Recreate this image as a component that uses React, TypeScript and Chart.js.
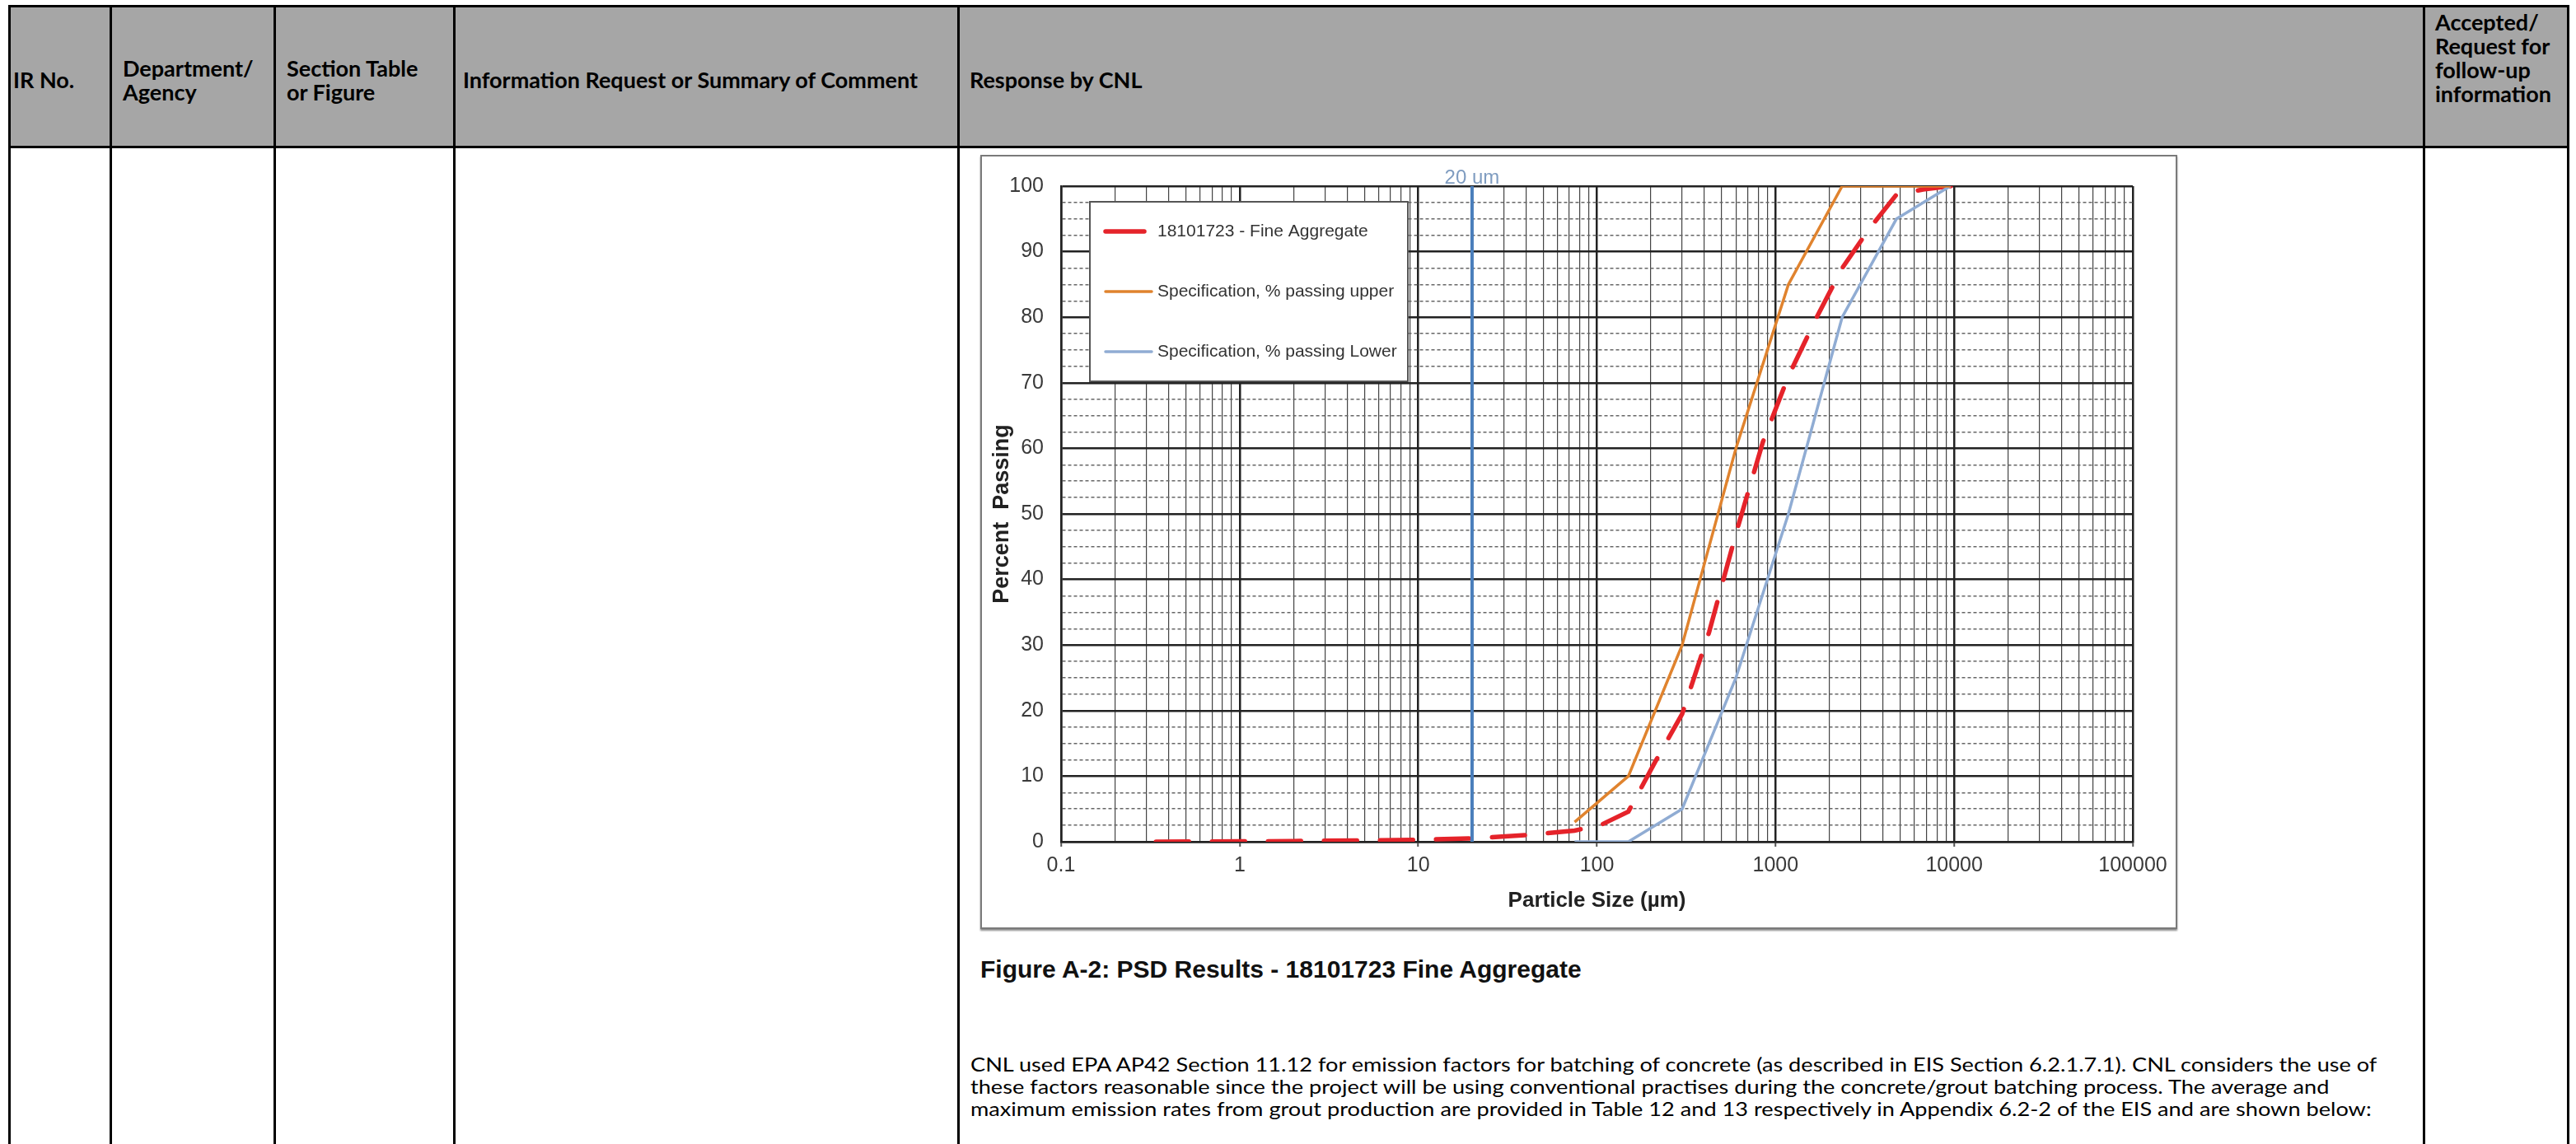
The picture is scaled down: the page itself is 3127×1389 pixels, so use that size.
import React, { useEffect, useRef } from 'react';
import { Chart, registerables } from 'chart.js';

Chart.register(...registerables);

// Sample PSD (particle size in µm, % passing)
const sampleSizes = [0.34, 1, 2, 5, 10, 20, 40, 75, 106, 150, 212, 300, 425, 600, 850, 1180, 1700, 2360, 3350, 4750, 6700, 9500, 12500];
const samplePassing = [0, 0.05, 0.1, 0.2, 0.3, 0.5, 1.0, 1.7, 2.6, 4.6, 12.2, 19.5, 32, 47, 61, 71, 80, 87.5, 93.5, 98.7, 99.5, 100, 100];

// Specification band
const specSizes = [75, 150, 300, 600, 1180, 2360, 4750, 9500];
const specUpper = [3, 10, 30, 60, 85, 100, 100, 100];
const specLower = [0, 0, 5, 25, 50, 80, 95, 100];

const seriesLabels = [
  '18101723 - Fine Aggregate',
  'Specification, % passing upper',
  'Specification, % passing Lower',
];

const markerSize = 20;
const markerLabel = '20 um';

const xTickLabels = ['0.1', '1', '10', '100', '1000', '10000', '100000'];
const yTickLabels = [0, 10, 20, 30, 40, 50, 60, 70, 80, 90, 100];

const FONT = '"Liberation Sans", Arial, sans-serif';
const CANVAS_W = 1449;
const CANVAS_H = 936;

const isDecade = (v: number) => xTickLabels.includes(String(v));

const minorTicks = () => {
  const out: number[] = [];
  xTickLabels.forEach((lbl, i) => {
    const d = Number(lbl);
    if (i === xTickLabels.length - 1) {
      out.push(d);
      return;
    }
    for (let m = 1; m < 10; m++) out.push(Number((m * d).toPrecision(6)));
  });
  return out;
};

const overlayPlugin = {
  id: 'psdOverlay',
  afterDraw(chart: any) {
    const { ctx, chartArea, scales } = chart;
    ctx.save();

    // label of the 20 um marker
    ctx.font = `24px ${FONT}`;
    ctx.fillStyle = '#7f9cc0';
    ctx.textAlign = 'center';
    ctx.textBaseline = 'alphabetic';
    ctx.fillText(markerLabel, scales.x.getPixelForValue(markerSize), chartArea.top - 3);

    // legend box inside the plot
    const bx = chartArea.left + 35;
    const by = chartArea.top + 19;
    const bw = 386;
    const bh = 218;
    ctx.fillStyle = '#ffffff';
    ctx.fillRect(bx, by, bw, bh);
    ctx.strokeStyle = '#555';
    ctx.lineWidth = 2;
    ctx.strokeRect(bx, by, bw, bh);

    const order = [3, 1, 2];
    ctx.font = `21px ${FONT}`;
    ctx.textAlign = 'left';
    ctx.textBaseline = 'middle';
    order.forEach((dsIndex, i) => {
      const ds = chart.data.datasets[dsIndex];
      const y = by + 36 + i * 73;
      ctx.beginPath();
      ctx.strokeStyle = ds.borderColor;
      ctx.lineWidth = ds.borderWidth;
      ctx.lineCap = 'round';
      ctx.moveTo(bx + 19, y);
      ctx.lineTo(bx + (i === 0 ? 66 : 75), y);
      ctx.stroke();
      ctx.fillStyle = '#333';
      ctx.fillText(seriesLabels[i], bx + 82, y);
    });
    ctx.restore();
  },
};

const PsdChart: React.FC = () => {
  const canvasRef = useRef<HTMLCanvasElement>(null);
  const chartInstance = useRef<Chart | null>(null);

  useEffect(() => {
    if (!canvasRef.current) return;
    const ctx = canvasRef.current.getContext('2d');
    if (!ctx) return;
    if (chartInstance.current) chartInstance.current.destroy();

    const toPoints = (xs: number[], ys: number[]) => xs.map((x, i) => ({ x, y: ys[i] }));

    chartInstance.current = new Chart(ctx, {
      type: 'scatter',
      data: {
        datasets: [
          {
            label: markerLabel,
            data: [{ x: markerSize, y: 0 }, { x: markerSize, y: 100 }],
            showLine: true,
            borderColor: '#4a7ebb',
            borderWidth: 4,
            pointRadius: 0,
          },
          {
            label: seriesLabels[1],
            data: toPoints(specSizes, specUpper),
            showLine: true,
            borderColor: '#e0832e',
            borderWidth: 3.5,
            pointRadius: 0,
          },
          {
            label: seriesLabels[2],
            data: toPoints(specSizes, specLower),
            showLine: true,
            borderColor: '#90acd3',
            borderWidth: 3.5,
            pointRadius: 0,
          },
          {
            label: seriesLabels[0],
            data: toPoints(sampleSizes, samplePassing),
            showLine: true,
            borderColor: '#e5232a',
            borderWidth: 5.5,
            borderDash: [40, 28],
            borderCapStyle: 'round',
            pointRadius: 0,
          },
        ],
      },
      options: {
        responsive: false,
        animation: false,
        devicePixelRatio: 1,
        layout: { padding: { top: 27, right: 52, left: 0, bottom: 0 } },
        plugins: {
          legend: { display: false },
          tooltip: { enabled: false },
        },
        scales: {
          x: {
            type: 'logarithmic',
            min: 0.1,
            max: 100000,
            afterBuildTicks: (scale: any) => {
              scale.ticks = minorTicks().map((value) => ({ value }));
            },
            afterFit: (scale: any) => {
              scale.height = 104;
            },
            ticks: {
              autoSkip: false,
              maxRotation: 0,
              padding: 8,
              color: '#3a3a3a',
              font: { family: FONT, size: 25 },
              callback: (value: any) => (isDecade(Number(value)) ? String(value) : ''),
            },
            grid: {
              color: (c: any) => (c.tick && isDecade(c.tick.value) ? '#222' : '#444'),
              lineWidth: (c: any) => (c.tick && isDecade(c.tick.value) ? 2.5 : 1.2),
              tickLength: 6,
              tickWidth: 2,
              tickColor: (c: any) => (c.tick && isDecade(c.tick.value) ? '#555' : 'rgba(0,0,0,0)'),
            },
            border: { color: '#222', width: 2.5 },
            title: {
              display: true,
              text: 'Particle Size (µm)',
              color: '#222',
              font: { family: FONT, size: 26, weight: 'bold' },
              padding: { top: 0, bottom: 17 },
            },
          },
          y: {
            min: 0,
            max: 100,
            afterFit: (scale: any) => {
              scale.width = 96;
            },
            ticks: {
              stepSize: 2.5,
              autoSkip: false,
              padding: 21,
              color: '#3a3a3a',
              font: { family: FONT, size: 25 },
              callback: (value: any) => (yTickLabels.includes(Number(value)) ? String(value) : ''),
            },
            grid: {
              drawTicks: false,
              color: (c: any) => (c.tick && c.tick.value % 10 === 0 ? '#222' : '#666'),
              lineWidth: (c: any) => (c.tick && c.tick.value % 10 === 0 ? 2.5 : 1.5),
            },
            border: {
              color: '#222',
              width: 2.5,
              dash: (c: any) => (c.tick && c.tick.value % 10 !== 0 ? [4, 3] : []),
            },
            title: {
              display: true,
              text: 'Percent  Passing',
              color: '#222',
              font: { family: FONT, size: 27, weight: 'bold' },
              padding: { top: 8, bottom: 0 },
            },
          },
        },
      },
      plugins: [overlayPlugin],
    } as any);

    return () => {
      if (chartInstance.current) {
        chartInstance.current.destroy();
        chartInstance.current = null;
      }
    };
  }, []);

  return <canvas ref={canvasRef} width={CANVAS_W} height={CANVAS_H} style={{ display: 'block' }} />;
};

// table geometry
const colLines = [11, 134, 333, 551, 1163, 2942, 3117];
const tableTop = 7;
const headerBottom = 178;

const headerFont: React.CSSProperties = {
  position: 'absolute',
  fontFamily: 'Lato, "Open Sans", sans-serif',
  fontWeight: 700,
  fontSize: 27,
  lineHeight: '29px',
  color: '#000',
  whiteSpace: 'nowrap',
};

const App: React.FC = () => {
  return (
    <div
      style={{
        position: 'absolute',
        left: 0,
        top: 0,
        width: 3127,
        height: 1389,
        overflow: 'hidden',
        background: '#fff',
      }}
    >
      {/* header fill */}
      <div
        style={{
          position: 'absolute',
          left: colLines[0],
          top: tableTop,
          width: colLines[colLines.length - 1] - colLines[0],
          height: headerBottom - tableTop,
          background: '#a6a6a6',
        }}
      />
      {/* horizontal rules */}
      <div style={{ position: 'absolute', left: colLines[0] - 1, top: tableTop - 1, width: colLines[6] - colLines[0] + 3, height: 3, background: '#000' }} />
      <div style={{ position: 'absolute', left: colLines[0] - 1, top: headerBottom - 1, width: colLines[6] - colLines[0] + 3, height: 3, background: '#000' }} />
      {/* vertical rules */}
      {colLines.map((x) => (
        <div key={x} style={{ position: 'absolute', left: x - 1, top: tableTop - 1, width: 3, height: 1389, background: '#000' }} />
      ))}

      {/* header text */}
      <div style={{ ...headerFont, left: 16, top: 82 }}>IR No.</div>
      <div style={{ ...headerFont, left: 149, top: 68 }}>
        Department/
        <br />
        Agency
      </div>
      <div style={{ ...headerFont, left: 348, top: 68 }}>
        Section Table
        <br />
        or Figure
      </div>
      <div style={{ ...headerFont, left: 562, top: 82 }}>Information Request or Summary of Comment</div>
      <div style={{ ...headerFont, left: 1177, top: 82 }}>Response by CNL</div>
      <div style={{ ...headerFont, left: 2956, top: 12 }}>
        Accepted/
        <br />
        Request for
        <br />
        follow-up
        <br />
        information
      </div>

      {/* chart frame */}
      <div
        style={{
          position: 'absolute',
          left: 1190,
          top: 188,
          width: CANVAS_W,
          height: CANVAS_H,
          border: '2px solid #7a7a7a',
          boxShadow: '0 2px 2px #8a8a8a',
          background: '#fff',
        }}
      >
        <PsdChart />
      </div>

      {/* caption */}
      <div
        style={{
          position: 'absolute',
          left: 1190,
          top: 1159,
          fontFamily: FONT,
          fontWeight: 700,
          fontSize: 30,
          lineHeight: '36px',
          color: '#111',
          whiteSpace: 'nowrap',
        }}
      >
        Figure A-2: PSD Results - 18101723 Fine Aggregate
      </div>

      {/* paragraph */}
      <div
        style={{
          position: 'absolute',
          left: 1178,
          top: 1279,
          fontFamily: 'Lato, "Open Sans", sans-serif',
          fontSize: 23,
          lineHeight: '27px',
          color: '#000',
          whiteSpace: 'nowrap',
          transform: 'scaleX(1.18)',
          transformOrigin: 'left top',
        }}
      >
        <div>CNL used EPA AP42 Section 11.12 for emission factors for batching of concrete (as described in EIS Section 6.2.1.7.1). CNL considers the use of</div>
        <div>these factors reasonable since the project will be using conventional practises during the concrete/grout batching process. The average and</div>
        <div>maximum emission rates from grout production are provided in Table 12 and 13 respectively in Appendix 6.2-2 of the EIS and are shown below:</div>
      </div>
    </div>
  );
};

export default App;
